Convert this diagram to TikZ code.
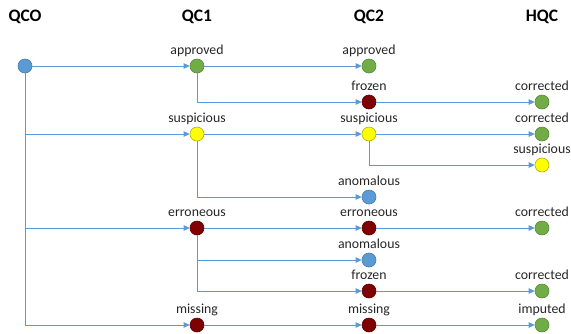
\documentclass[tikz,border=0pt]{standalone}
\usepackage{fontspec}
\setmainfont{Carlito}
\usetikzlibrary{arrows.meta}
\definecolor{cblue}{HTML}{5B9BD5}
\definecolor{cgreen}{HTML}{70AD47}
\definecolor{cred}{HTML}{7F0000}
\definecolor{cyel}{HTML}{FFFF00}
\definecolor{ctext}{HTML}{262626}
\tikzset{
  st/.style={circle, minimum size=14pt, inner sep=0pt, line width=0.6pt},
  sblue/.style={st, fill=cblue, draw=cblue!80!black},
  sgreen/.style={st, fill=cgreen, draw=cgreen!80!black},
  sred/.style={st, fill=cred, draw=cred!80!black},
  syel/.style={st, fill=cyel, draw=cyel!70!black},
  lbl/.style={font=\fontsize{13.8}{15}\selectfont, text=ctext, inner sep=0pt, text height=9pt, text depth=3pt},
  hdr/.style={font=\fontsize{17.5}{19}\selectfont\bfseries, anchor=base, inner sep=0pt},
  conn/.style={draw=cblue, line width=0.85pt, -{Triangle[length=6pt,width=5.5pt]}},
  label distance=1pt
}
\begin{document}
\begin{tikzpicture}[x=1pt,y=-1pt]
\useasboundingbox (0,0) rectangle (571,333);
% headers
\node[hdr] (h0) at (25,21.5) {QCO};
\node[hdr] (h1) at (197,21.5) {QC1};
\node[hdr] (h2) at (369,21.5) {QC2};
\node[hdr] (h3) at (542,21.5) {HQC};
% QCO
\node[sblue] (o) at (25,66) {};
% QC1
\node[sgreen, label={[lbl]above:approved}] (a1) at (197,66) {};
\node[syel, label={[lbl]above:suspicious}] (s1) at (197,134) {};
\node[sred, label={[lbl]above:erroneous}] (e1) at (197,228) {};
\node[sred, label={[lbl]above:missing}] (m1) at (197,325) {};
% QC2
\node[sgreen, label={[lbl]above:approved}] (a2) at (369,66) {};
\node[sred, label={[lbl]above:frozen}] (f2) at (369,102) {};
\node[syel, label={[lbl]above:suspicious}] (s2) at (369,134) {};
\node[sblue, label={[lbl]above:anomalous}] (n2) at (369,197) {};
\node[sred, label={[lbl]above:erroneous}] (e2) at (369,228) {};
\node[sblue, label={[lbl]above:anomalous}] (n3) at (369,260) {};
\node[sred, label={[lbl]above:frozen}] (f3) at (369,291) {};
\node[sred, label={[lbl]above:missing}] (m2) at (369,325) {};
% HQC
\node[sgreen, label={[lbl]above:corrected}] (c1) at (542,102) {};
\node[sgreen, label={[lbl]above:corrected}] (c2) at (542,134) {};
\node[syel, label={[lbl]above:suspicious}] (q3) at (542,165) {};
\node[sgreen, label={[lbl]above:corrected}] (c4) at (542,228) {};
\node[sgreen, label={[lbl]above:corrected}] (c5) at (542,291) {};
\node[sgreen, label={[lbl]above:imputed}] (i6) at (542,325) {};
% connectors
\draw[conn] (o) -- (a1);
\draw[conn] (o) |- (s1);
\draw[conn] (o) |- (e1);
\draw[conn] (o) |- (m1);
\draw[conn] (a1) -- (a2);
\draw[conn] (a1) |- (f2);
\draw[conn] (f2) -- (c1);
\draw[conn] (s1) -- (s2);
\draw[conn] (s1) |- (n2);
\draw[conn] (s2) -- (c2);
\draw[conn] (s2) |- (q3);
\draw[conn] (e1) -- (e2);
\draw[conn] (e1) |- (n3);
\draw[conn] (e1) |- (f3);
\draw[conn] (e2) -- (c4);
\draw[conn] (f3) -- (c5);
\draw[conn] (m1) -- (m2);
\draw[conn] (m2) -- (i6);
\end{tikzpicture}
\end{document}
